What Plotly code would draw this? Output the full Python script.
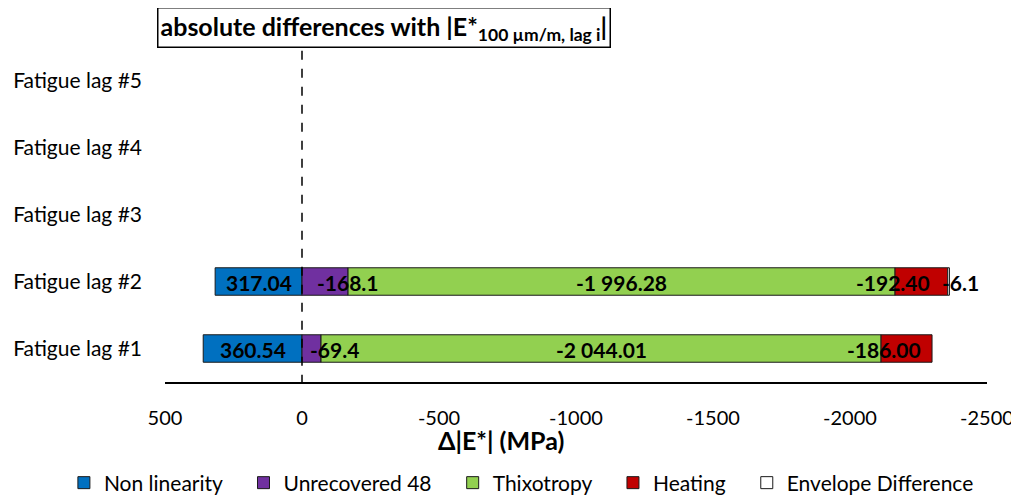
import plotly.graph_objects as go

categories = ["Fatigue lag #1", "Fatigue lag #2", "Fatigue lag #3", "Fatigue lag #4", "Fatigue lag #5"]
series_names = ["Non linearity", "Unrecovered 48", "Thixotropy", "Heating", "Envelope Difference"]
non_linearity = [360.54, 317.04, None, None, None]
unrecovered_48 = [-69.4, -168.1, None, None, None]
thixotropy = [-2044.01, -1996.28, None, None, None]
heating = [-186.00, -192.40, None, None, None]
envelope_difference = [None, -6.1, None, None, None]
label_texts = {
    "Non linearity": ["360.54", "317.04"],
    "Unrecovered 48": ["-69.4", "-168.1"],
    "Thixotropy": ["-2 044.01", "-1 996.28"],
    "Heating": ["-186.00", "-192.40"],
    "Envelope Difference": [None, "-6.1"],
}
x_ticks = [500, 0, -500, -1000, -1500, -2000, -2500]

# styles
colors = ["#0070C0", "#7030A0", "#92D050", "#C00000", "#FFFFFF"]
label_xshift = {
    "Non linearity": [0, 0],
    "Unrecovered 48": [23, 23],
    "Thixotropy": [0, 0],
    "Heating": [-23, -28],
    "Envelope Difference": [0, 12],
}
legend_pad = ["\u00a0" * 3, "\u00a0" * 3, "\u00a0" * 3, "\u00a0" * 3, ""]
FONT = "Lato"

series = [non_linearity, unrecovered_48, thixotropy, heating, envelope_difference]

fig = go.Figure()
for name, vals, col, pad in zip(series_names, series, colors, legend_pad):
    fig.add_trace(go.Bar(
        y=categories, x=vals, name=name + pad, orientation="h",
        marker=dict(color=col, line=dict(color="#1a1a1a", width=1)),
        width=0.41,
    ))

# data labels computed from stacked positions
annotations = []
pos_cum = [0.0] * len(categories)
neg_cum = [0.0] * len(categories)
for name, vals in zip(series_names, series):
    for i, v in enumerate(vals):
        if v is None:
            continue
        if v >= 0:
            start = pos_cum[i]; pos_cum[i] += v
        else:
            start = neg_cum[i]; neg_cum[i] += v
        center = start + v / 2
        texts = label_texts[name]
        if i < len(texts) and texts[i] is not None:
            annotations.append(dict(
                x=center, y=categories[i], xref="x", yref="y",
                text="<b>%s</b>" % texts[i], showarrow=False,
                xshift=label_xshift[name][i], yshift=-1,
                font=dict(family=FONT, size=21, color="black"),
            ))

annotations.append(dict(
    x=0.267, y=1.058, xref="paper", yref="paper",
    text="<b>absolute differences with |E*<sub>100 µm/m, lag i</sub>|</b>",
    showarrow=False, xanchor="center", yanchor="middle",
    font=dict(family=FONT, size=25, color="black"),
    bordercolor="black", borderwidth=1.5, borderpad=2, bgcolor="white",
))
annotations.append(dict(
    x=(501 - 165) / 822, y=-(440 - 382) / 335, xref="paper", yref="paper",
    text="<b>Δ|E*| (MPa)</b>", showarrow=False, xanchor="center", yanchor="middle",
    font=dict(family=FONT, size=25, color="black"),
))

fig.update_layout(
    width=1011, height=492,
    barmode="relative",
    plot_bgcolor="white", paper_bgcolor="white",
    margin=dict(l=157, r=32, t=39, b=118, autoexpand=False),
    font=dict(family=FONT, size=20, color="black"),
    annotations=annotations,
    showlegend=True,
    legend=dict(
        orientation="h", xref="paper", yref="paper",
        x=-0.123, y=-(475 - 374) / 335, xanchor="left", yanchor="middle",
        font=dict(family=FONT, size=21, color="black"),
        traceorder="normal", itemwidth=30,
    ),
    shapes=[dict(type="line", xref="x", yref="paper", x0=0, x1=0, y0=-0.005, y1=1.0,
                 line=dict(color="black", width=1.5, dash="dash"))],
)
fig.update_xaxes(
    range=[500, -2500], tickvals=x_ticks, ticktext=[str(t) for t in x_ticks],
    showgrid=False, zeroline=False, showline=True, linecolor="black", linewidth=1.5,
    ticks="", ticklabelstandoff=17, tickfont=dict(family=FONT, size=20),
    ticklabeloverflow="allow", automargin=False,
)
fig.update_yaxes(
    categoryorder="array", categoryarray=categories, range=[-0.5, 4.5],
    showgrid=False, zeroline=False, showline=False, ticks="",
    ticklabelstandoff=22, tickfont=dict(family=FONT, size=21),
    automargin=False,
)

fig.write_html("out.html")
